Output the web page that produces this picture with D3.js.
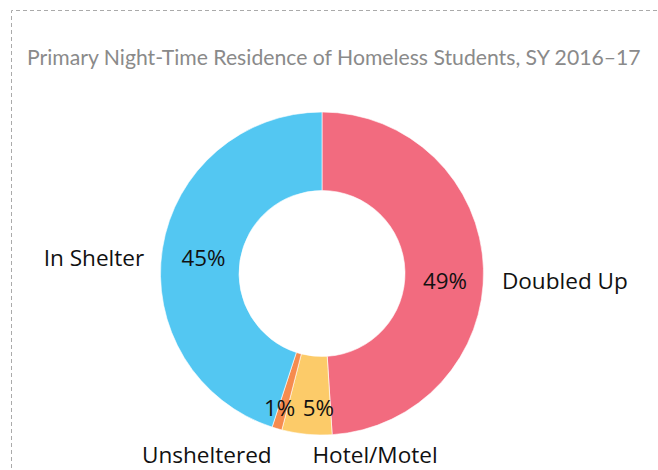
<!DOCTYPE html>
<html>
<head>
<meta charset="utf-8">
<script src="https://cdn.jsdelivr.net/npm/d3@7"></script>
<style>
  body { margin: 0; background: #fff; }
  svg text { font-family: Lato, "Open Sans", sans-serif; }
  svg text.pct, svg text.name { font-family: "Open Sans", Lato, sans-serif; }
</style>
</head>
<body>
<div id="chart"></div>
<script>
// data
const categories = ["Doubled Up", "Hotel/Motel", "Unsheltered", "In Shelter"];
const values = [49, 5, 1, 45];
const colors = ["#F26B7F", "#FCCB69", "#F68B4E", "#53C7F2"];
const title = "Primary Night-Time Residence of Homeless Students, SY 2016\u201317";

// label nudges (px) so labels sit where the original has them
const pctNudge = [[0, 11], [8, 12], [-8, 16], [3, 3]];
const nameNudge = [[0, 13], [70, 2], [-65, 8], [0, 12]];

const width = 658, height = 470;
const cx = 322, cy = 273.5;
const outerR = 161.5, innerR = 83;

const svg = d3.select("#chart").append("svg")
    .attr("width", width)
    .attr("height", height);

// dashed frame (runs off the right and bottom)
svg.append("path")
    .attr("d", "M11.5," + (height + 5) + "V10.5H" + (width + 5))
    .attr("fill", "none")
    .attr("stroke", "#aaa")
    .attr("stroke-width", 1)
    .attr("stroke-dasharray", "4,3");

// scale a font size so a text spans a given width
function fitSize(sel, target) {
    sel.style("font-size", "20px");
    let w = sel.node().getComputedTextLength();
    return 20 * target / w;
}

// title, sized to span the same width as the original
const titleText = svg.append("text")
    .attr("x", 27)
    .attr("y", 65)
    .attr("fill", "#8a8a8a")
    .text(title);
titleText.style("font-size", fitSize(titleText, 614) + "px");

const g = svg.append("g")
    .attr("transform", "translate(" + cx + "," + cy + ")");

const pie = d3.pie().sort(null).value(d => d);
const arcs = pie(values);

const arc = d3.arc().innerRadius(innerR).outerRadius(outerR);
const labelArc = d3.arc().innerRadius(123).outerRadius(123);
const nameArc = d3.arc().innerRadius(180).outerRadius(180);

g.selectAll(".slice")
    .data(arcs)
    .enter()
    .append("path")
    .attr("class", "slice")
    .attr("d", arc)
    .attr("fill", (d, i) => colors[i])
    .attr("stroke", "#fff")
    .attr("stroke-width", 0.6);

// percentages inside the ring
const pct = g.selectAll(".pct")
    .data(arcs)
    .enter()
    .append("text")
    .attr("class", "pct")
    .attr("x", (d, i) => labelArc.centroid(d)[0] + pctNudge[i][0])
    .attr("y", (d, i) => labelArc.centroid(d)[1] + pctNudge[i][1])
    .attr("text-anchor", "middle")
    .attr("dominant-baseline", "central")
    .attr("fill", "#111")
    .text(d => d.value + "%");
let pctSize = fitSize(pct.filter((d, i) => i == 0), 44);
pct.style("font-size", pctSize + "px");

// category names outside
const names = g.selectAll(".name")
    .data(arcs)
    .enter()
    .append("text")
    .attr("class", "name")
    .attr("x", (d, i) => nameArc.centroid(d)[0] + nameNudge[i][0])
    .attr("y", (d, i) => nameArc.centroid(d)[1] + nameNudge[i][1])
    .attr("text-anchor", (d, i) => {
        let mid = (d.startAngle + d.endAngle) / 2;
        if (mid > 2.9 && mid < 3.6) return "middle";
        return mid < Math.PI ? "start" : "end";
    })
    .attr("dominant-baseline", "central")
    .attr("fill", "#111")
    .text((d, i) => categories[i]);
let nameSize = fitSize(names.filter((d, i) => i == 0), 126);
names.style("font-size", nameSize + "px");
</script>
</body>
</html>
